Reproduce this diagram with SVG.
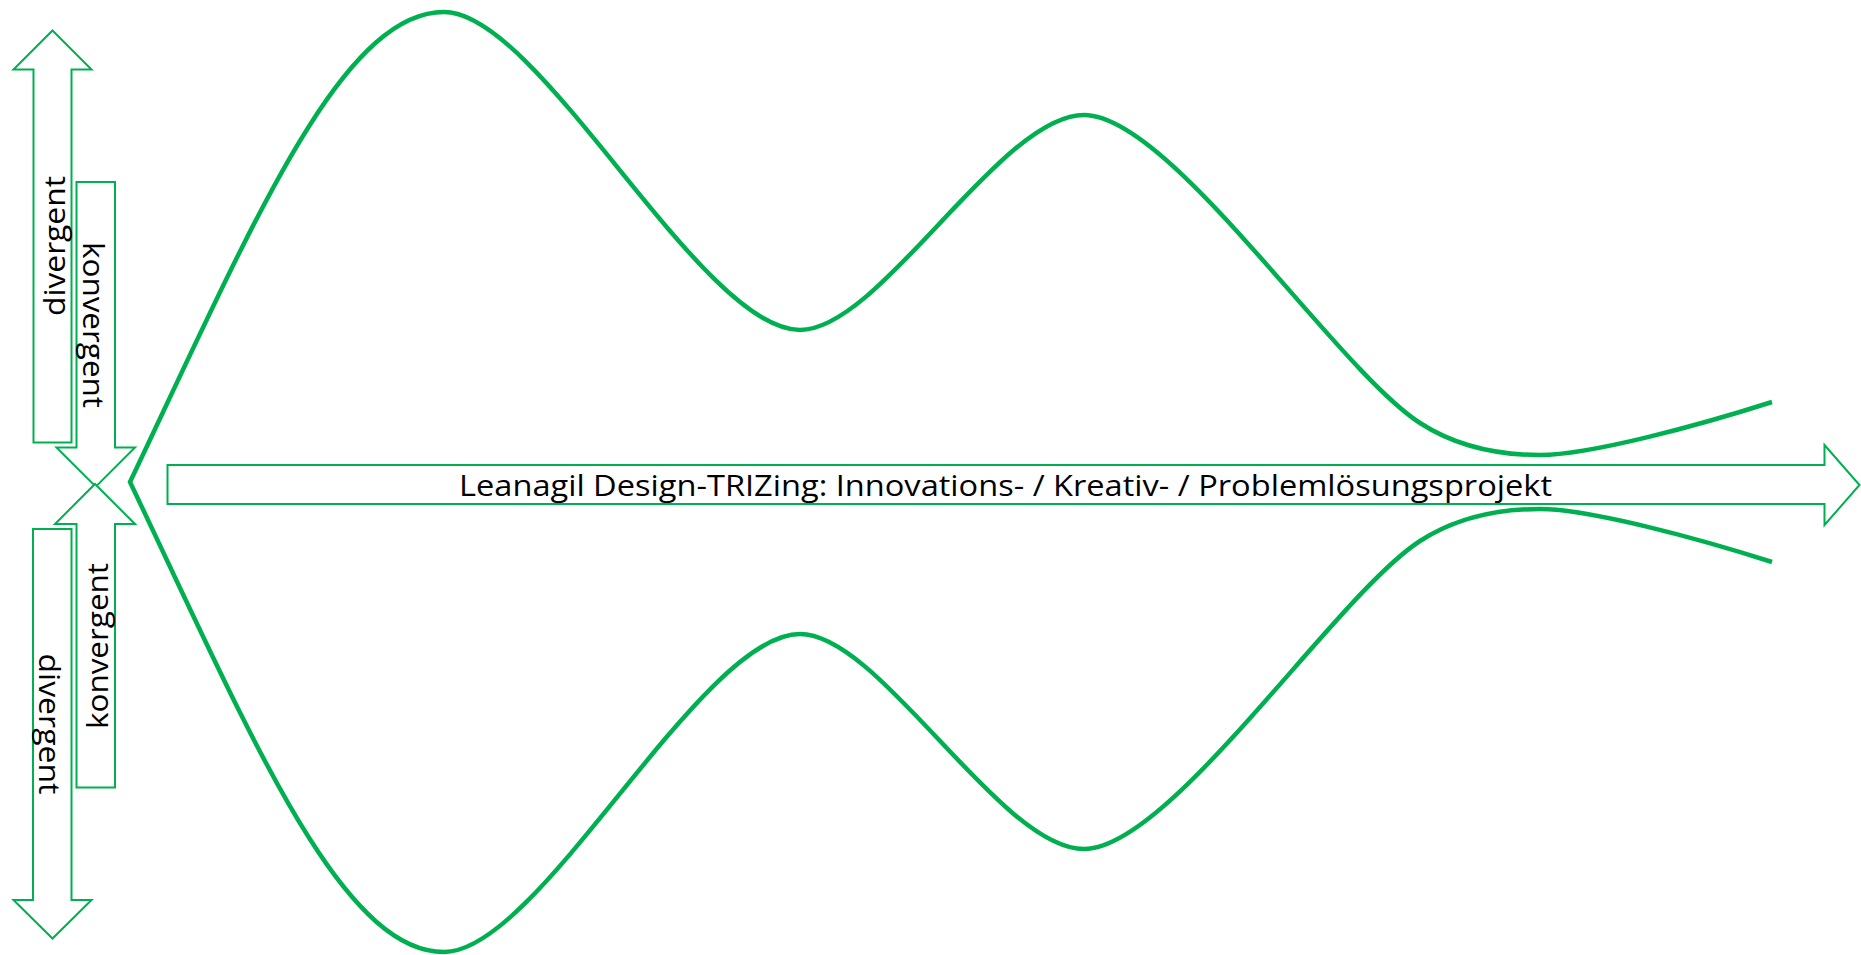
<svg xmlns="http://www.w3.org/2000/svg" width="1861" height="955" viewBox="0 0 1861 955">
<style>
.arrow{fill:#ffffff;stroke:#00B050;stroke-width:2;stroke-linejoin:miter}
.funnel{fill:none;stroke:#00B050;stroke-width:4.5;stroke-linejoin:miter;stroke-miterlimit:20}
.lbl{font-family:"Open Sans","Liberation Sans",sans-serif;font-size:30px;fill:#000000}
</style>
<rect width="1861" height="955" fill="#ffffff"/>
<g id="funnel">
<path class="funnel" d="M1772,402 C1700,425 1590,455 1540,455 C1495,455 1455,445.6 1420,423 C1335,368 1170,115 1084,115 C1000,115 880,330 800,330 C700,330 540,12 444,12 C340,12 250,230 130,482 C250,734 340,952 444,952 C540,952 700,634 800,634 C880,634 1000,849 1084,849 C1170,849 1335,596 1420,541 C1455,518.4 1495,509 1540,509 C1590,509 1700,539 1772,562"/>
</g>
<g id="divergent-up">
<polygon class="arrow" points="52.5,30.5 91.5,69.5 71.5,69.5 71.5,442.5 33.5,442.5 33.5,69.5 13.5,69.5"/>
<text class="lbl" transform="translate(65,246) rotate(-90)" text-anchor="middle" textLength="140" lengthAdjust="spacingAndGlyphs">divergent</text>
</g>
<g id="konvergent-down">
<polygon class="arrow" points="76.5,182 115,182 115,447.5 135,447.5 95.8,486.7 56.5,447.5 76.5,447.5"/>
<text class="lbl" transform="translate(83,325) rotate(90)" text-anchor="middle" textLength="166" lengthAdjust="spacingAndGlyphs">konvergent</text>
</g>
<g id="konvergent-up">
<polygon class="arrow" points="95,484 135,524 115,524 115,787.5 76.5,787.5 76.5,524 55,524"/>
<text class="lbl" transform="translate(108,646) rotate(-90)" text-anchor="middle" textLength="166" lengthAdjust="spacingAndGlyphs">konvergent</text>
</g>
<g id="divergent-down">
<polygon class="arrow" points="33,529 71.5,529 71.5,900 91.5,900 52.5,938.5 13.5,900 33,900"/>
<text class="lbl" transform="translate(39,724) rotate(90)" text-anchor="middle" textLength="141" lengthAdjust="spacingAndGlyphs">divergent</text>
</g>
<g id="main-arrow">
<polygon class="arrow" points="167.5,465 1824.5,465 1824.5,445 1859.5,485 1824.5,525 1824.5,504 167.5,504"/>
<text class="lbl" x="459" y="496" textLength="1093" lengthAdjust="spacingAndGlyphs">Leanagil Design-TRIZing: Innovations- / Kreativ- / Problemlösungsprojekt</text>
</g>
</svg>
